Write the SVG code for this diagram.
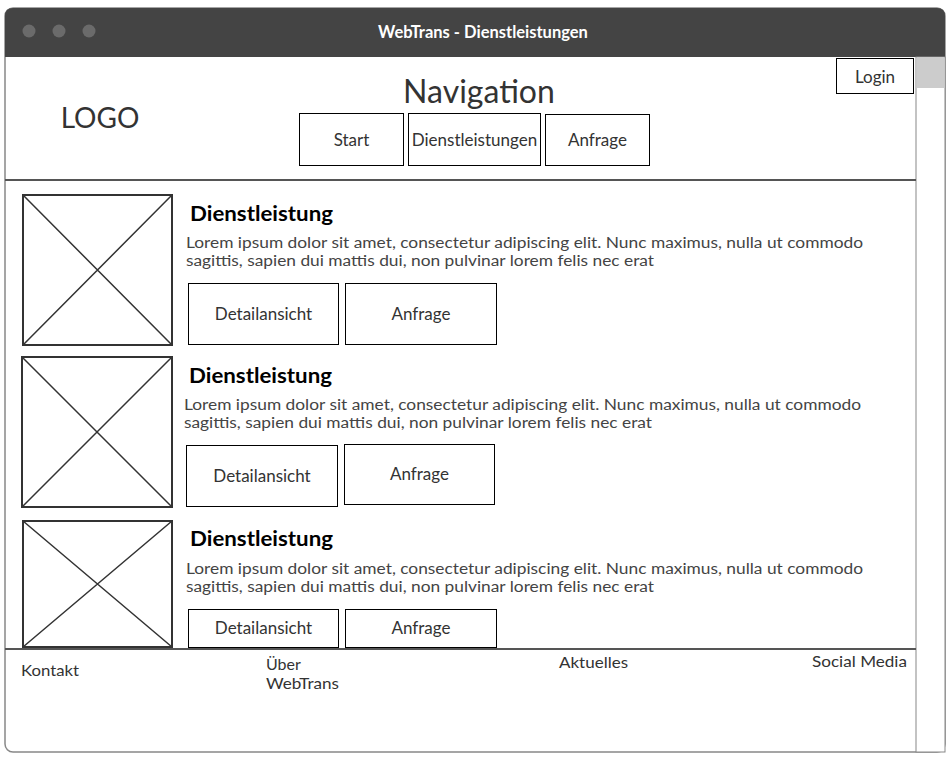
<svg xmlns="http://www.w3.org/2000/svg" width="950" height="758" viewBox="0 0 950 758">
<defs>
<style>
text{font-family:Lato,"Noto Sans","Liberation Sans",sans-serif;fill:#333333}
.btn{fill:#ffffff;stroke:#000000;stroke-width:1}
.b16{font-size:17px;text-anchor:middle}
.ph{fill:#ffffff;stroke:#333333;stroke-width:2}
.phx{stroke:#333333;stroke-width:1.5;fill:none}
.ttl{font-size:21px;font-weight:bold;fill:#000000}
.lor{font-size:15.5px;fill:#444444}
.ft{font-size:16px}
.sep{stroke:#555555;stroke-width:2}
</style>
</defs>
<g id="window">
<rect x="5" y="8" width="940" height="744" rx="8" ry="8" fill="#ffffff" stroke="#888888" stroke-width="1.5"/>
<path d="M5 57 V16 Q5 8 13 8 H937 Q945 8 945 16 V57 Z" fill="#444444"/>
<circle cx="29" cy="31" r="6.5" fill="#6b6b6b"/>
<circle cx="59" cy="31" r="6.5" fill="#6b6b6b"/>
<circle cx="89" cy="31" r="6.5" fill="#6b6b6b"/>
<text x="483" y="38" style="font-size:16.5px;font-weight:bold;fill:#ffffff;text-anchor:middle">WebTrans - Dienstleistungen</text>
</g>
<g id="scrollbar">
<rect x="916" y="57" width="29" height="695" fill="#ffffff" stroke="#888888" stroke-width="1"/>
<rect x="916.5" y="57" width="28" height="31" fill="#cccccc"/>
</g>
<g id="header">
<text x="100" y="128" style="font-size:28px;text-anchor:middle">LOGO</text>
<text x="479" y="103" style="font-size:32px;text-anchor:middle">Navigation</text>
</g>
<g id="nav-start"><rect class="btn" x="299.5" y="113.5" width="104" height="52"/><text class="b16" x="351.5" y="146">Start</text></g>
<g id="nav-dienst"><rect class="btn" x="408.5" y="113.5" width="132" height="52"/><text class="b16" x="474.5" y="146">Dienstleistungen</text></g>
<g id="nav-anfrage"><rect class="btn" x="545.5" y="114.5" width="104" height="51"/><text class="b16" x="597.5" y="146">Anfrage</text></g>
<g id="login"><rect class="btn" x="836.5" y="58.5" width="77" height="35"/><text class="b16" x="875" y="83">Login</text></g>
<g id="separators">
<line class="sep" x1="5" y1="180" x2="916" y2="180"/>
<line class="sep" x1="5" y1="649" x2="916" y2="649"/>
</g>
<g id="item1">
<rect class="ph" x="23" y="195" width="149" height="150"/>
<path class="phx" d="M23 195 L172 345 M172 195 L23 345"/>
<text class="ttl" x="190" y="221" textLength="143" lengthAdjust="spacingAndGlyphs">Dienstleistung</text>
<text class="lor" x="186" y="248" textLength="677" lengthAdjust="spacingAndGlyphs">Lorem ipsum dolor sit amet, consectetur adipiscing elit. Nunc maximus, nulla ut commodo</text>
<text class="lor" x="186" y="266" textLength="468" lengthAdjust="spacingAndGlyphs">sagittis, sapien dui mattis dui, non pulvinar lorem felis nec erat</text>
</g>
<g id="item1-detail"><rect class="btn" x="188.5" y="283.5" width="150" height="61"/><text class="b16" x="263.5" y="320">Detailansicht</text></g>
<g id="item1-anfrage"><rect class="btn" x="345.5" y="283.5" width="151" height="61"/><text class="b16" x="421" y="320">Anfrage</text></g>
<g id="item2">
<rect class="ph" x="22" y="357" width="150" height="150"/>
<path class="phx" d="M22 357 L172 507 M172 357 L22 507"/>
<text class="ttl" x="189" y="383" textLength="143" lengthAdjust="spacingAndGlyphs">Dienstleistung</text>
<text class="lor" x="184" y="410" textLength="677" lengthAdjust="spacingAndGlyphs">Lorem ipsum dolor sit amet, consectetur adipiscing elit. Nunc maximus, nulla ut commodo</text>
<text class="lor" x="184" y="428" textLength="468" lengthAdjust="spacingAndGlyphs">sagittis, sapien dui mattis dui, non pulvinar lorem felis nec erat</text>
</g>
<g id="item2-detail"><rect class="btn" x="186.5" y="445.5" width="151" height="61"/><text class="b16" x="262" y="482">Detailansicht</text></g>
<g id="item2-anfrage"><rect class="btn" x="344.5" y="444.5" width="150" height="60"/><text class="b16" x="419.5" y="480">Anfrage</text></g>
<g id="item3">
<rect class="ph" x="23" y="521" width="149" height="126"/>
<path class="phx" d="M23 521 L172 647 M172 521 L23 647"/>
<text class="ttl" x="190" y="546" textLength="143" lengthAdjust="spacingAndGlyphs">Dienstleistung</text>
<text class="lor" x="186" y="574" textLength="677" lengthAdjust="spacingAndGlyphs">Lorem ipsum dolor sit amet, consectetur adipiscing elit. Nunc maximus, nulla ut commodo</text>
<text class="lor" x="186" y="592" textLength="468" lengthAdjust="spacingAndGlyphs">sagittis, sapien dui mattis dui, non pulvinar lorem felis nec erat</text>
</g>
<g id="item3-detail"><rect class="btn" x="188.5" y="609.5" width="150" height="38"/><text class="b16" x="263.5" y="634">Detailansicht</text></g>
<g id="item3-anfrage"><rect class="btn" x="345.5" y="609.5" width="151" height="38"/><text class="b16" x="421" y="634">Anfrage</text></g>
<g id="footer">
<text class="ft" x="21" y="676" textLength="58" lengthAdjust="spacingAndGlyphs">Kontakt</text>
<text class="ft" x="266" y="670">Über</text>
<text class="ft" x="266" y="689" textLength="73" lengthAdjust="spacingAndGlyphs">WebTrans</text>
<text class="ft" x="559" y="668" textLength="69" lengthAdjust="spacingAndGlyphs">Aktuelles</text>
<text class="ft" x="812" y="667" textLength="95" lengthAdjust="spacingAndGlyphs">Social Media</text>
</g>
</svg>
